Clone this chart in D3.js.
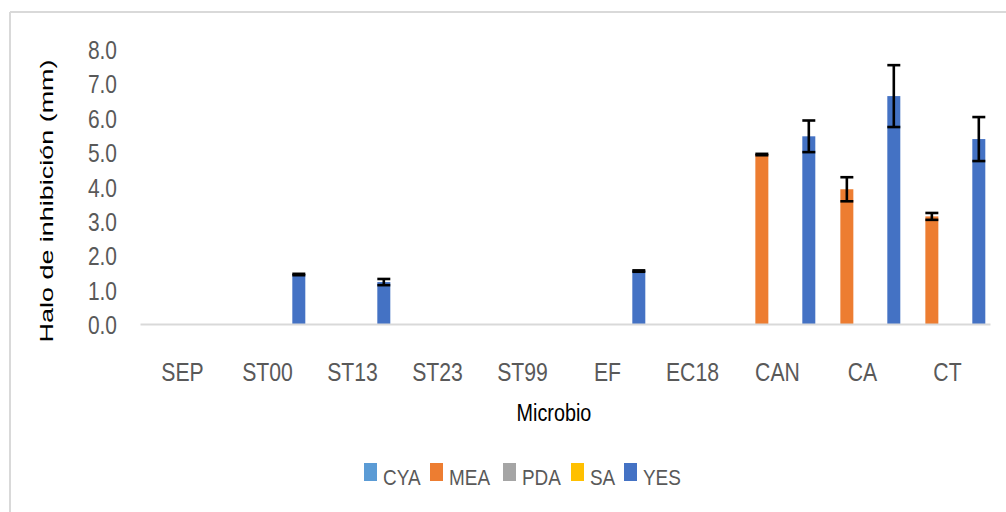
<!DOCTYPE html>
<html>
<head>
<meta charset="utf-8">
<script src="https://cdn.jsdelivr.net/npm/d3@7"></script>
<style>
  html, body { margin: 0; padding: 0; background: #fff; }
  svg { display: block; }
</style>
</head>
<body>
<svg id="chart" width="1006" height="512"></svg>
<script>
// ---- data ----
const categories = ["SEP", "ST00", "ST13", "ST23", "ST99", "EF", "EC18", "CAN", "CA", "CT"];
const seriesNames = ["CYA", "MEA", "PDA", "SA", "YES"];
const CYA = [0, 0, 0, 0, 0, 0, 0, 0, 0, 0];
const MEA = [0, 0, 0, 0, 0, 0, 0, 4.93, 3.92, 3.13];
const PDA = [0, 0, 0, 0, 0, 0, 0, 0, 0, 0];
const SA  = [0, 0, 0, 0, 0, 0, 0, 0, 0, 0];
const YES = [0, 1.44, 1.22, 0, 0, 1.54, 0, 5.46, 6.63, 5.38];
const CYA_err = [0, 0, 0, 0, 0, 0, 0, 0, 0, 0];
const MEA_err = [0, 0, 0, 0, 0, 0, 0, 0.02, 0.35, 0.10];
const PDA_err = [0, 0, 0, 0, 0, 0, 0, 0, 0, 0];
const SA_err  = [0, 0, 0, 0, 0, 0, 0, 0, 0, 0];
const YES_err = [0, 0.02, 0.09, 0, 0, 0.02, 0, 0.46, 0.90, 0.64];
const yTicks = [0, 1, 2, 3, 4, 5, 6, 7, 8];
const colors = ["#5B9BD5", "#ED7D31", "#A5A5A5", "#FFC000", "#4472C4"];

const values = [CYA, MEA, PDA, SA, YES];
const errors = [CYA_err, MEA_err, PDA_err, SA_err, YES_err];

const svg = d3.select("#chart");

function squeeze(sel, f) {
  sel.each(function () {
    const l = this.getComputedTextLength();
    d3.select(this).attr("textLength", l * f).attr("lengthAdjust", "spacingAndGlyphs");
  });
}

// chart border (top and left visible)
svg.append("line").attr("x1", 10).attr("x2", 1006).attr("y1", 12).attr("y2", 12)
  .attr("stroke", "#d9d9d9").attr("stroke-width", 2);
svg.append("line").attr("x1", 10).attr("x2", 10).attr("y1", 12).attr("y2", 512)
  .attr("stroke", "#d9d9d9").attr("stroke-width", 2);

// scales
const x0 = d3.scaleBand().domain(categories).range([140, 990]).padding(0);
const x1 = d3.scaleBand().domain(seriesNames).range([0, x0.bandwidth()])
  .paddingInner(0.17).paddingOuter(0.3);
const y = d3.scaleLinear().domain([0, 8]).range([324, 49]);

// y tick labels
const yAxis = d3.axisLeft(y).tickValues(yTicks).tickFormat(d3.format(".1f")).tickSize(0).tickPadding(0);
const yg = svg.append("g").attr("transform", "translate(117,0)").call(yAxis);
yg.select(".domain").remove();
yg.selectAll("text")
  .attr("fill", "#595959")
  .style("font-family", "'Liberation Sans', Arial, sans-serif")
  .style("font-size", "26.5px")
  .attr("dy", "0.36em")
  .call(squeeze, 0.79);

// bars
const rows = [];
seriesNames.forEach((s, si) => {
  categories.forEach((c, ci) => {
    rows.push({ s, si, c, v: values[si][ci], e: errors[si][ci] });
  });
});

svg.append("g").selectAll("rect")
  .data(rows.filter(d => d.v > 0))
  .join("rect")
  .attr("x", d => x0(d.c) + x1(d.s))
  .attr("width", x1.bandwidth())
  .attr("y", d => y(d.v))
  .attr("height", d => y(0) - y(d.v))
  .attr("fill", d => colors[d.si]);

// x axis line
const xAxis = d3.axisBottom(x0).tickSize(0).tickPadding(0);
const xg = svg.append("g").attr("transform", "translate(0,324)").call(xAxis);
xg.select(".domain").attr("stroke", "#d9d9d9").attr("stroke-width", 2);
xg.selectAll("text")
  .attr("fill", "#595959")
  .attr("y", 57)
  .attr("dy", 0)
  .style("font-family", "'Liberation Sans', Arial, sans-serif")
  .style("font-size", "26.5px")
  .call(squeeze, 0.8);

// error bars
const eg = svg.append("g").attr("stroke", "#000").attr("stroke-width", 2.6).attr("fill", "none");
rows.filter(d => d.v > 0 && d.e > 0).forEach(d => {
  const cx = x0(d.c) + x1(d.s) + x1.bandwidth() / 2;
  const hw = x1.bandwidth() / 2;
  const top = y(d.v + d.e), bot = y(d.v - d.e);
  eg.append("line").attr("x1", cx).attr("x2", cx).attr("y1", top).attr("y2", bot);
  eg.append("line").attr("x1", cx - hw).attr("x2", cx + hw).attr("y1", top).attr("y2", top);
  eg.append("line").attr("x1", cx - hw).attr("x2", cx + hw).attr("y1", bot).attr("y2", bot);
});

// axis titles
svg.append("text")
  .attr("x", 554).attr("y", 421)
  .attr("text-anchor", "middle")
  .style("font-family", "'Liberation Sans', Arial, sans-serif")
  .style("font-size", "23px")
  .attr("fill", "#000")
  .text("Microbio")
  .call(squeeze, 0.86);

svg.append("text")
  .attr("transform", "translate(53,201) rotate(-90)")
  .attr("text-anchor", "middle")
  .style("font-family", "'Liberation Sans', Arial, sans-serif")
  .style("font-size", "18px")
  .attr("fill", "#000")
  .attr("textLength", 283)
  .attr("lengthAdjust", "spacingAndGlyphs")
  .text("Halo de inhibición (mm)");

// legend
const legendX = [364, 430, 503, 571, 624];
const lg = svg.append("g");
seriesNames.forEach((s, i) => {
  lg.append("rect").attr("x", legendX[i]).attr("y", 463).attr("width", 13).attr("height", 18)
    .attr("fill", colors[i]);
  lg.append("text").attr("x", legendX[i] + 19).attr("y", 485)
    .attr("fill", "#595959")
    .style("font-family", "'Liberation Sans', Arial, sans-serif")
    .style("font-size", "22px")
    .text(s)
    .call(squeeze, 0.86);
});
</script>
</body>
</html>
